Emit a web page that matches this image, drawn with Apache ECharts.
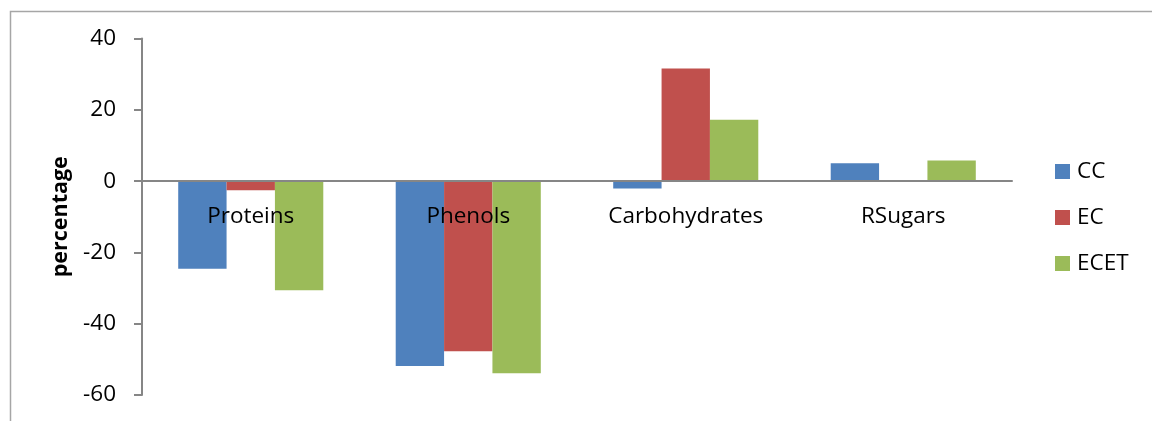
<!DOCTYPE html>
<html>
<head>
<meta charset="utf-8">
<script src="https://cdn.jsdelivr.net/npm/echarts@6/dist/echarts.min.js"></script>
<style>html,body{margin:0;padding:0;background:#fff}#c{width:1152px;height:421px}</style>
</head>
<body>
<div id="c"></div>
<script>
const categories = ["Proteins", "Phenols", "Carbohydrates", "RSugars"];
const seriesNames = ["CC", "EC", "ECET"];
const ccValues = [-24.6, -51.9, -2.1, 5.0];
const ecValues = [-2.6, -47.7, 31.6, 0];
const ecetValues = [-30.6, -53.9, 17.2, 5.8];
const yTicks = { min: -60, max: 40, interval: 20 };
const yAxisName = "percentage";

const colors = ["#4F81BD", "#C0504D", "#9BBB59"];
const font = "'Open Sans', 'Noto Sans', sans-serif";
const fs = 22.5;
const gridTop = 38.5, gridBottom = 26;
const chart = echarts.init(document.getElementById('c'), null, { renderer: 'canvas' });
const values = [ccValues, ecValues, ecetValues];
const option = {
  animation: false,
  backgroundColor: '#fff',
  color: colors,
  graphic: [{
    type: 'rect', left: 8, top: 9, silent: true, z: -10,
    shape: { width: 1300, height: 600 },
    style: { fill: 'none', stroke: '#A6A6A6', lineWidth: 1.5 }
  }],
  grid: { left: 142, right: 140, top: gridTop, bottom: gridBottom, containLabel: false, outerBoundsMode: 'none' },
  legend: {
    orient: 'vertical', left: 1055, top: 160, padding: 0, itemGap: 23, itemWidth: 15, itemHeight: 15,
    icon: 'rect',
    textStyle: { fontFamily: font, fontSize: fs, color: '#000', padding: [0, 0, 0, 2] },
    data: seriesNames
  },
  xAxis: {
    type: 'category', data: categories,
    axisLine: { onZero: false, lineStyle: { color: '#868686', width: 2 } },
    axisTick: { show: false },
    axisLabel: { margin: 24, fontFamily: font, fontSize: fs, color: '#000' },
    offset: 0,
    z: 10
  },
  yAxis: {
    type: 'value', min: yTicks.min, max: yTicks.max, interval: yTicks.interval,
    name: yAxisName, nameLocation: 'middle', nameGap: 70, nameRotate: 90,
    nameTextStyle: { fontFamily: font, fontSize: 21.5, fontWeight: 'bold', color: '#000' },
    axisLine: { show: true, lineStyle: { color: '#868686', width: 2 } },
    axisTick: { show: true, length: 8, lineStyle: { color: '#868686', width: 2 } },
    axisLabel: { margin: 26, fontFamily: font, fontSize: fs, color: '#000' },
    splitLine: { show: false }
  },
  series: seriesNames.map((n, i) => ({
    name: n, type: 'bar', data: values[i],
    barGap: '0%', barCategoryGap: '33.3%',
    itemStyle: { color: colors[i] }
  }))
};
chart.setOption(option);
// place the category axis on the zero line (computed via the value scale)
const zeroY = chart.convertToPixel({ yAxisIndex: 0 }, 0);
const bottomY = 421 - gridBottom;
chart.setOption({ xAxis: { offset: -(bottomY - zeroY) } });
</script>
</body>
</html>
